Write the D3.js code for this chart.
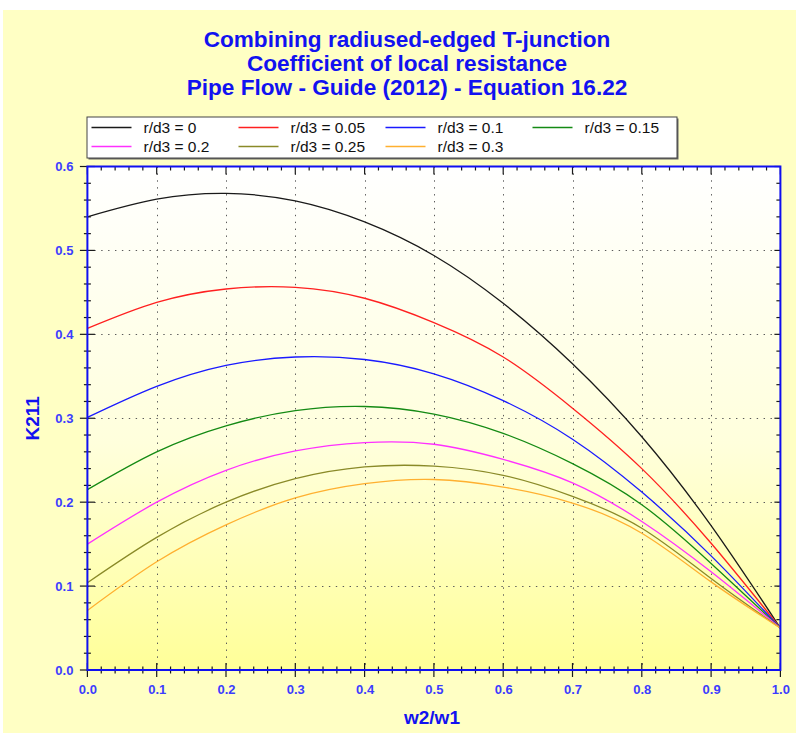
<!DOCTYPE html>
<html>
<head>
<meta charset="utf-8">
<script src="https://cdn.jsdelivr.net/npm/d3@7/dist/d3.min.js"></script>
<style>
  html, body { margin: 0; padding: 0; background: #ffffff; }
  svg { display: block; }
  text { font-family: "Liberation Sans", Arial, sans-serif; }
</style>
</head>
<body>
<svg id="chart" width="796" height="733"></svg>
<script>
// Velocity ratio w2/w1 at which K211 is tabulated
const ratios = [0, 0.1, 0.2, 0.3, 0.4, 0.5, 0.6, 0.7, 0.8, 0.9, 1.0];

// Radius ratio r/d3 of each curve
const radiusRatios = [0, 0.05, 0.1, 0.15, 0.2, 0.25, 0.3];

// K211 values, one array per r/d3
const k_r000 = [0.540, 0.561, 0.568, 0.559, 0.534, 0.494, 0.437, 0.365, 0.278, 0.172, 0.050];
const k_r005 = [0.407, 0.438, 0.454, 0.456, 0.443, 0.414, 0.373, 0.312, 0.240, 0.151, 0.050];
const k_r010 = [0.301, 0.338, 0.363, 0.373, 0.370, 0.353, 0.321, 0.275, 0.212, 0.136, 0.050];
const k_r015 = [0.215, 0.260, 0.291, 0.309, 0.314, 0.305, 0.282, 0.246, 0.197, 0.127, 0.050];
const k_r020 = [0.150, 0.200, 0.238, 0.261, 0.271, 0.269, 0.251, 0.223, 0.177, 0.117, 0.050];
const k_r025 = [0.104, 0.158, 0.200, 0.228, 0.242, 0.243, 0.232, 0.207, 0.169, 0.109, 0.050];
const k_r030 = [0.071, 0.129, 0.173, 0.205, 0.222, 0.227, 0.218, 0.199, 0.163, 0.105, 0.050];

const seriesValues = [k_r000, k_r005, k_r010, k_r015, k_r020, k_r025, k_r030];
const seriesColors = ["#1a1a1a", "#ff2020", "#1a1aff", "#148a14", "#ff30ff", "#8a8a28", "#ffb030"];
const seriesLabels = radiusRatios.map(r => "r/d3 = " + r);

const titleLines = [
  "Combining radiused-edged T-junction",
  "Coefficient of local resistance",
  "Pipe Flow - Guide (2012) - Equation 16.22"
];
const xTitle = "w2/w1";
const yTitle = "K211";

const svg = d3.select("#chart");
const W = 796, H = 733;
const plot = { left: 87.4, right: 780.4, top: 166.5, bottom: 670 };

const x = d3.scaleLinear().domain([0, 1]).range([plot.left, plot.right]);
const y = d3.scaleLinear().domain([0, 0.6]).range([plot.bottom, plot.top]);

const defs = svg.append("defs");
const grad = defs.append("linearGradient")
  .attr("id", "plotFill").attr("x1", 0).attr("y1", 0).attr("x2", 0).attr("y2", 1);
grad.append("stop").attr("offset", "0%").attr("stop-color", "#ffffff");
grad.append("stop").attr("offset", "55%").attr("stop-color", "#ffffdc");
grad.append("stop").attr("offset", "100%").attr("stop-color", "#ffff98");

defs.append("clipPath").attr("id", "plotClip")
  .append("rect")
  .attr("x", plot.left).attr("y", plot.top)
  .attr("width", plot.right - plot.left).attr("height", plot.bottom - plot.top);

// Panel background
svg.append("rect").attr("x", 3).attr("y", 10).attr("width", W - 3).attr("height", H - 10)
  .attr("fill", "#ffffc4");

// Titles
const title = svg.append("g");
titleLines.forEach((t, i) => {
  title.append("text")
    .attr("x", 407).attr("y", 47 + i * 24)
    .attr("text-anchor", "middle")
    .attr("font-size", 22.6).attr("font-weight", "bold")
    .attr("fill", "#1212f0")
    .text(t);
});

// Plot area
svg.append("rect")
  .attr("x", plot.left).attr("y", plot.top)
  .attr("width", plot.right - plot.left).attr("height", plot.bottom - plot.top)
  .attr("fill", "url(#plotFill)");

// Grid lines
const grid = svg.append("g").attr("stroke", "#5a5a5a").attr("stroke-width", 1)
  .attr("stroke-dasharray", "1.4,5.5");
grid.selectAll(".gx").data(x.ticks(10).slice(1, -1)).join("line")
  .attr("x1", d => Math.round(x(d)) + 0.5).attr("x2", d => Math.round(x(d)) + 0.5)
  .attr("y1", plot.top).attr("y2", plot.bottom);
grid.selectAll(".gy").data(y.ticks(6).slice(1, -1)).join("line")
  .attr("y1", d => Math.round(y(d)) + 0.5).attr("y2", d => Math.round(y(d)) + 0.5)
  .attr("x1", plot.left).attr("x2", plot.right);

// Curves
const line = d3.line()
  .x(d => x(d[0])).y(d => y(d[1]))
  .curve(d3.curveNatural);
const curves = svg.append("g").attr("clip-path", "url(#plotClip)");
seriesValues.forEach((vals, i) => {
  curves.append("path")
    .datum(ratios.map((r, j) => [r, vals[j]]))
    .attr("fill", "none")
    .attr("stroke", seriesColors[i])
    .attr("stroke-width", 1.3)
    .attr("d", line);
});

// Tick marks
const tickG = svg.append("g").attr("stroke", "#1a1a1a").attr("stroke-width", 1.2);
const xMinor = x.ticks(50), xMajor = x.ticks(10).map(d => +d.toFixed(2));
const yMinor = y.ticks(30), yMajor = y.ticks(6).map(d => +d.toFixed(2));
const isMajor = (arr, d) => arr.some(m => Math.abs(m - d) < 1e-9);

tickG.selectAll(".tb").data(xMinor).join("line")
  .attr("x1", d => x(d)).attr("x2", d => x(d))
  .attr("y1", d => plot.bottom - (isMajor(xMajor, d) ? 7 : 3.5))
  .attr("y2", d => plot.bottom + (isMajor(xMajor, d) ? 7 : 3.5));
tickG.selectAll(".tt").data(xMinor).join("line")
  .attr("x1", d => x(d)).attr("x2", d => x(d))
  .attr("y1", plot.top)
  .attr("y2", d => plot.top + (isMajor(xMajor, d) ? 8 : 4));
tickG.selectAll(".tl").data(yMinor).join("line")
  .attr("y1", d => y(d)).attr("y2", d => y(d))
  .attr("x1", d => plot.left - (isMajor(yMajor, d) ? 7.5 : 3.5))
  .attr("x2", d => plot.left + (isMajor(yMajor, d) ? 7.5 : 3.5));
tickG.selectAll(".tr").data(yMinor).join("line")
  .attr("y1", d => y(d)).attr("y2", d => y(d))
  .attr("x1", plot.right)
  .attr("x2", d => plot.right - (isMajor(yMajor, d) ? 6 : 4));

// Frame
svg.append("rect")
  .attr("x", plot.left).attr("y", plot.top)
  .attr("width", plot.right - plot.left).attr("height", plot.bottom - plot.top)
  .attr("fill", "none").attr("stroke", "#1010f0").attr("stroke-width", 2);

// Tick labels
const fmt = d3.format(".1f");
const xAxis = svg.append("g").attr("transform", `translate(0,${plot.bottom})`)
  .call(d3.axisBottom(x).ticks(10).tickFormat(fmt).tickSize(0).tickPadding(15));
const yAxis = svg.append("g").attr("transform", `translate(${plot.left},0)`)
  .call(d3.axisLeft(y).ticks(6).tickFormat(fmt).tickSize(0).tickPadding(14));
[xAxis, yAxis].forEach(a => {
  a.select(".domain").remove();
  a.selectAll("text")
    .attr("fill", "#3c3cff").attr("font-size", 13).attr("font-weight", "bold")
    .attr("font-family", "'Liberation Sans', Arial, sans-serif");
});

// Axis titles
svg.append("text")
  .attr("x", 432).attr("y", 724)
  .attr("text-anchor", "middle")
  .attr("font-size", 19).attr("font-weight", "bold").attr("fill", "#1212f0")
  .text(xTitle);
svg.append("text")
  .attr("transform", `translate(39,${(plot.top + plot.bottom) / 2}) rotate(-90)`)
  .attr("text-anchor", "middle")
  .attr("font-size", 19).attr("font-weight", "bold").attr("fill", "#1212f0")
  .text(yTitle);

// Legend
const legend = { x: 87, y: 117, w: 590, h: 41, colW: 147, rowH: 19 };
svg.append("rect")
  .attr("x", legend.x + 1.5).attr("y", legend.y + 1.5)
  .attr("width", legend.w).attr("height", legend.h)
  .attr("fill", "#666");
svg.append("rect")
  .attr("x", legend.x).attr("y", legend.y)
  .attr("width", legend.w).attr("height", legend.h)
  .attr("fill", "#ffffff").attr("stroke", "#444").attr("stroke-width", 1);
const items = svg.append("g").selectAll("g").data(seriesLabels).join("g")
  .attr("transform", (d, i) => `translate(${legend.x + 4.5 + (i % 4) * legend.colW},${legend.y + 10.5 + Math.floor(i / 4) * legend.rowH})`);
items.append("line")
  .attr("x1", 0).attr("x2", 40).attr("y1", 0).attr("y2", 0)
  .attr("stroke", (d, i) => seriesColors[i]).attr("stroke-width", 1.3);
items.append("text")
  .attr("x", 52).attr("y", 0).attr("dy", "0.35em")
  .attr("font-size", 15.5).attr("fill", "#111")
  .text(d => d);
</script>
</body>
</html>
